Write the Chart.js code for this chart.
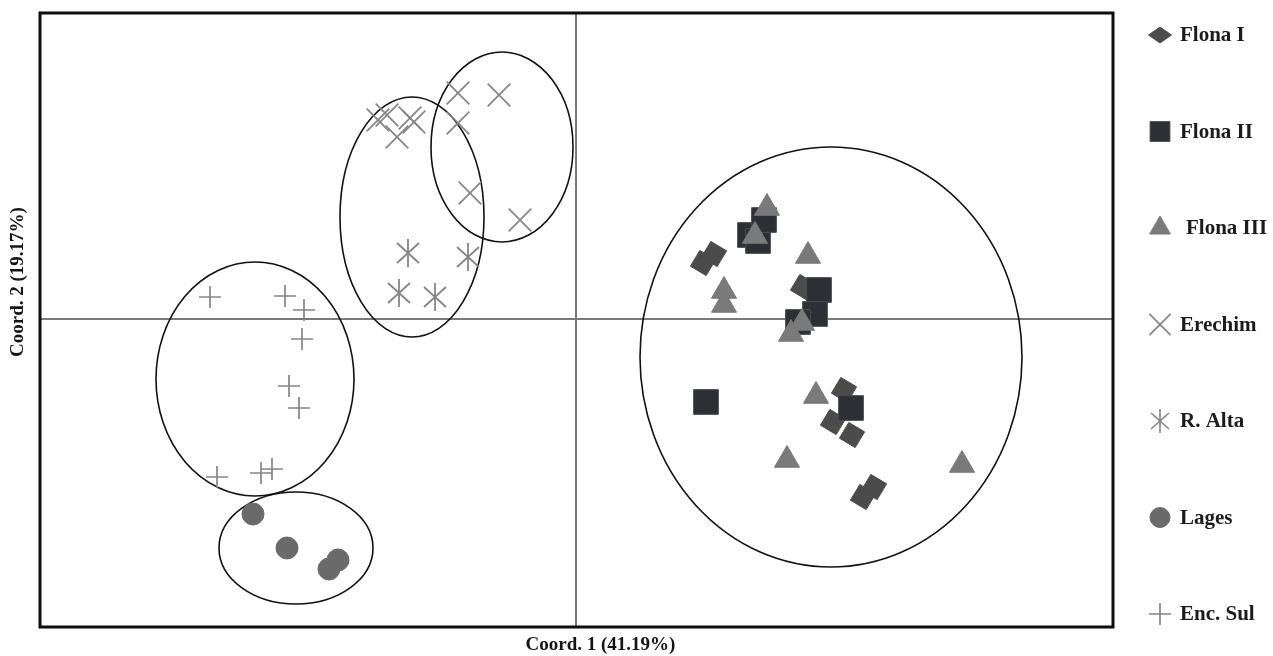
<!DOCTYPE html>
<html>
<head>
<meta charset="utf-8">
<script src="https://cdn.jsdelivr.net/npm/chart.js@4.4.1/dist/chart.umd.min.js"></script>
<style>
  html, body { margin: 0; padding: 0; background: #ffffff; }
  #wrap { width: 1273px; height: 656px; position: relative; }
</style>
</head>
<body>
<div id="wrap"><canvas id="pcoa" width="1273" height="656"></canvas></div>
<script>
// Principal coordinates of the sampled individuals, per population
const groupNames = ['Flona I', 'Flona II', 'Flona III', 'Erechim', 'R. Alta', 'Lages', 'Enc. Sul'];

const flonaI_x   = [1.27, 1.38, 2.27, 2.68, 2.57, 2.76, 2.87, 2.98];
const flonaI_y   = [0.56, 0.65, 0.32, -0.71, -1.03, -1.16, -1.78, -1.68];

const flonaII_x  = [1.74, 1.82, 1.88, 2.43, 2.39, 2.22, 1.30, 2.75];
const flonaII_y  = [0.84, 0.78, 0.99, 0.29, 0.05, -0.03, -0.83, -0.89];

const flonaIII_x = [1.91, 1.79, 2.32, 1.48, 1.48, 2.26, 2.15, 2.40, 2.11, 3.86];
const flonaIII_y = [1.11, 0.83, 0.63, 0.28, 0.14, -0.04, -0.15, -0.77, -1.41, -1.46];

const erechim_x  = [-1.18, -0.77, -1.18, -1.98, -1.89, -1.66, -1.62, -1.79, -1.06, -0.56];
const erechim_y  = [2.26, 2.24, 1.96, 1.99, 2.04, 2.01, 1.97, 1.82, 1.26, 0.99];

const rAlta_x    = [-1.68, -1.08, -1.77, -1.41];
const rAlta_y    = [0.66, 0.62, 0.26, 0.22];

const lages_x    = [-3.23, -2.89, -2.38, -2.47];
const lages_y    = [-1.95, -2.29, -2.41, -2.50];

const encSul_x   = [-3.66, -2.91, -2.72, -2.74, -2.87, -2.77, -3.59, -3.15, -3.04];
const encSul_y   = [0.22, 0.23, 0.09, -0.20, -0.67, -0.89, -1.58, -1.54, -1.50];

// Grouping ellipses (centre and semi-axes, in coordinate units)
const ellipseCx = [-0.74, -1.64, -3.21, -2.80, 2.55];
const ellipseCy = [1.72, 1.02, -0.60, -2.29, -0.38];
const ellipseRx = [0.71, 0.72, 0.99, 0.77, 1.91];
const ellipseRy = [0.95, 1.20, 1.17, 0.56, 2.10];

// Axis extents and titles
const xRange = [-5.36, 5.37];
const yRange = [-3.08, 3.06];
const xTitle = 'Coord. 1 (41.19%)';
const yTitle = 'Coord. 2 (19.17%)';

function pairs(xs, ys) { return xs.map((x, i) => ({ x: x, y: ys[i] })); }

// Six-armed marker: a diagonal cross with a vertical stroke
function asteriskMarker(color, w, h, lw) {
  const c = document.createElement('canvas');
  c.width = w; c.height = h;
  const g = c.getContext('2d');
  g.strokeStyle = color; g.lineWidth = lw; g.lineCap = 'butt';
  g.beginPath();
  g.moveTo(1, 4); g.lineTo(w - 1, h - 4);
  g.moveTo(w - 1, 4); g.lineTo(1, h - 4);
  g.moveTo(w / 2, 0); g.lineTo(w / 2, h);
  g.stroke();
  return c;
}
const asteriskPlot = asteriskMarker('#858585', 24, 28, 1.8);
const asteriskKey = asteriskMarker('#858585', 20, 24, 1.6);

const datasets = [
  { label: groupNames[0], data: pairs(flonaI_x, flonaI_y), pointStyle: 'rectRot', pointRadius: 13, rotation: -14,
    backgroundColor: '#4b4b4b', borderColor: '#4b4b4b', borderWidth: 1, order: 3,
    key: { radius: 8, w: 23 } },
  { label: groupNames[1], data: pairs(flonaII_x, flonaII_y), pointStyle: 'rect', pointRadius: 17.5,
    backgroundColor: '#2c2f33', borderColor: '#4a4d50', borderWidth: 1, order: 2,
    key: { radius: 14 } },
  { label: groupNames[2], data: pairs(flonaIII_x, flonaIII_y), pointStyle: 'triangle', pointRadius: 14.5,
    backgroundColor: '#7a7a7a', borderColor: '#7a7a7a', borderWidth: 1, order: 1,
    key: { radius: 12 } },
  { label: groupNames[3], data: pairs(erechim_x, erechim_y), pointStyle: 'crossRot', pointRadius: 16,
    backgroundColor: '#858585', borderColor: '#858585', borderWidth: 1.7, order: 0,
    key: { radius: 15 } },
  { label: groupNames[4], data: pairs(rAlta_x, rAlta_y), pointStyle: asteriskPlot, pointRadius: 13,
    backgroundColor: '#858585', borderColor: '#858585', borderWidth: 1.7, order: 0,
    key: { image: asteriskKey } },
  { label: groupNames[5], data: pairs(lages_x, lages_y), pointStyle: 'circle', pointRadius: 11,
    backgroundColor: '#6a6a6a', borderColor: '#6a6a6a', borderWidth: 1, order: 0,
    key: { radius: 10 } },
  { label: groupNames[6], data: pairs(encSul_x, encSul_y), pointStyle: 'cross', pointRadius: 11,
    backgroundColor: '#858585', borderColor: '#858585', borderWidth: 1.7, order: 0,
    key: { radius: 11 } }
];
datasets.forEach(d => { d.pointRotation = d.rotation || 0; d.pointHoverRadius = d.pointRadius; });

// Frame, zero lines and grouping ellipses under the points
const framePlugin = {
  id: 'frame',
  beforeDatasetsDraw(chart) {
    const { ctx, chartArea: a, scales: { x, y } } = chart;
    ctx.save();
    ctx.strokeStyle = '#7a7a7a';
    ctx.lineWidth = 2;
    const x0 = Math.round(x.getPixelForValue(0));
    const y0 = Math.round(y.getPixelForValue(0));
    ctx.beginPath();
    ctx.moveTo(x0, a.top); ctx.lineTo(x0, a.bottom);
    ctx.moveTo(a.left, y0); ctx.lineTo(a.right, y0);
    ctx.stroke();

    ctx.strokeStyle = '#111111';
    ctx.lineWidth = 1.6;
    for (let i = 0; i < ellipseCx.length; i++) {
      const cx = x.getPixelForValue(ellipseCx[i]);
      const cy = y.getPixelForValue(ellipseCy[i]);
      const rx = Math.abs(x.getPixelForValue(ellipseCx[i] + ellipseRx[i]) - cx);
      const ry = Math.abs(y.getPixelForValue(ellipseCy[i] + ellipseRy[i]) - cy);
      ctx.beginPath();
      ctx.ellipse(cx, cy, rx, ry, 0, 0, Math.PI * 2);
      ctx.stroke();
    }
    ctx.restore();
  },
  afterDatasetsDraw(chart) {
    const { ctx, chartArea: a } = chart;
    ctx.save();
    ctx.strokeStyle = '#0d0d0d';
    ctx.lineWidth = 3;
    ctx.strokeRect(a.left, a.top, a.right - a.left, a.bottom - a.top);
    ctx.restore();
  }
};

// Axis titles and the marker key at the right
const keyPlugin = {
  id: 'key',
  afterDraw(chart) {
    const { ctx, chartArea: a } = chart;
    ctx.save();
    ctx.fillStyle = '#141414';
    ctx.font = 'bold 19px "Liberation Serif", "DejaVu Serif", serif';
    ctx.textAlign = 'center';
    ctx.textBaseline = 'middle';
    ctx.fillText(xTitle, (a.left + a.right) / 2 + 24, a.bottom + 18);
    ctx.translate(18, (a.top + a.bottom) / 2 - 38);
    ctx.rotate(-Math.PI / 2);
    ctx.fillText(yTitle, 0, 0);
    ctx.restore();

    const keyX = 1160, textX = 1180;
    const keyTop = 35, keyStep = 96.5;
    chart.data.datasets.forEach((ds, i) => {
      const yy = keyTop + i * keyStep;
      ctx.save();
      ctx.fillStyle = ds.backgroundColor;
      ctx.strokeStyle = ds.borderColor;
      ctx.lineWidth = ds.borderWidth;
      const style = ds.key.image || ds.pointStyle;
      Chart.helpers.drawPointLegend(ctx, {
        pointStyle: style, radius: ds.key.radius || 10, rotation: 0, borderWidth: ds.borderWidth
      }, keyX, yy, ds.key.w);
      ctx.restore();
      ctx.save();
      ctx.fillStyle = '#1c1c1c';
      ctx.font = 'bold 21px "Liberation Serif", "DejaVu Serif", serif';
      ctx.textAlign = 'left';
      ctx.textBaseline = 'middle';
      ctx.fillText(ds.label, textX + (i === 2 ? 6 : 0), yy + 1);
      ctx.restore();
    });
  }
};

new Chart(document.getElementById('pcoa'), {
  type: 'scatter',
  data: { datasets: datasets },
  options: {
    responsive: false,
    animation: false,
    layout: { autoPadding: false, padding: { left: 40, top: 13, right: 160, bottom: 29 } },
    scales: {
      x: { type: 'linear', min: xRange[0], max: xRange[1], display: false },
      y: { type: 'linear', min: yRange[0], max: yRange[1], display: false }
    },
    plugins: {
      legend: { display: false },
      tooltip: { enabled: false }
    }
  },
  plugins: [framePlugin, keyPlugin]
});
</script>
</body>
</html>
